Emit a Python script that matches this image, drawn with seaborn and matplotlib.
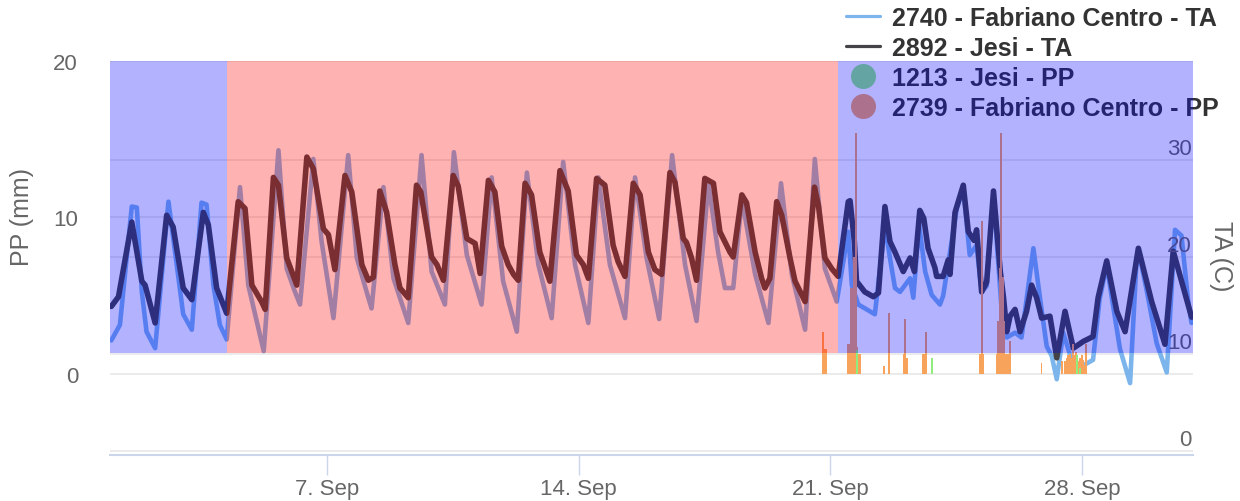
import numpy as np
import pandas as pd
import matplotlib
matplotlib.use("Agg")
import matplotlib.pyplot as plt
import matplotlib.dates as mdates
import matplotlib.transforms as mtrans
from matplotlib.lines import Line2D
from matplotlib.patches import Rectangle
import seaborn as sns

# ---------------- data ----------------
start = pd.Timestamp("2023-09-01 00:00")

# 2740 - Fabriano Centro - TA  (days since 1 Sep 00:00, deg C)
fab_ta_day = [0.00, 0.24, 0.57, 0.71, 0.85, 0.98, 1.22, 1.59, 1.82, 2.00, 2.24, 2.51, 2.65, 2.84,
              3.02, 3.21, 3.58, 3.81, 4.24, 4.65, 4.88, 5.11, 5.25, 5.62, 5.85, 6.18, 6.59, 6.83,
              7.15, 7.24, 7.57, 7.85, 8.26, 8.63, 8.91, 9.28, 9.53, 9.89, 10.30, 10.58, 10.90,
              11.28, 11.56, 11.88, 12.25, 12.57, 12.90, 13.27, 13.55, 13.87, 14.29, 14.57, 14.89,
              15.24, 15.60, 15.96, 16.28, 16.61, 16.88, 17.07, 17.30, 17.54, 17.91, 18.28, 18.63,
              18.93, 19.30, 19.57, 19.85, 20.18, 20.50, 20.60, 20.78, 21.24, 21.52, 21.66, 21.80,
              21.94, 22.22, 22.31, 22.47, 22.64, 22.82, 23.05, 23.14, 23.52, 23.70, 23.88, 24.07,
              24.21, 24.35, 24.54, 24.77, 24.91, 25.14, 25.32, 25.65, 25.84, 26.02, 26.16, 26.30,
              26.48, 26.71, 27.03, 27.31, 27.49, 27.69, 27.87, 28.06, 28.34, 28.52, 28.61, 28.80,
              29.08, 29.36, 29.59, 29.77, 29.95, 30.05]
fab_ta_val = [11.4, 13.0, 25.2, 25.1, 16.4, 12.3, 10.6, 25.7, 19.2, 14.1, 12.5, 25.6, 25.4, 17.1,
              13.0, 11.5, 27.2, 17.1, 10.3, 31.0, 18.8, 16.4, 15.1, 30.1, 21.6, 13.7, 30.5, 19.9,
              15.8, 14.7, 27.2, 17.8, 13.2, 30.5, 18.5, 15.1, 30.8, 20.2, 15.1, 28.2, 17.5,
              12.3, 28.7, 19.2, 13.7, 29.8, 19.2, 13.2, 28.2, 19.2, 13.7, 28.2, 19.9,
              13.6, 30.5, 19.2, 13.4, 27.6, 20.5, 16.8, 16.8, 26.0, 18.2, 13.2, 27.6,
              18.2, 12.5, 30.1, 18.8, 15.4, 22.6, 17.1, 15.1, 14.1, 23.3, 19.9, 16.8,
              16.4, 17.8, 15.8, 23.3, 18.5, 16.1, 15.1, 16.0, 25.0, 27.0, 20.2, 21.2,
              16.4, 17.0, 26.3, 14.4, 11.7, 12.2, 11.7, 20.9, 15.6, 10.8, 9.8, 7.4,
              12.2, 9.4, 8.8, 9.4, 15.6, 19.2, 14.9, 10.5, 7.0, 19.7, 20.0, 16.6,
              11.1, 8.1, 22.8, 22.2, 15.6, 13.2]

# 2892 - Jesi - TA
jesi_ta_day = [0.00, 0.20, 0.57, 0.85, 0.94, 1.22, 1.54, 1.72, 2.00, 2.24, 2.56, 2.70, 2.93, 3.21,
               3.53, 3.72, 3.91, 4.18, 4.28, 4.51, 4.65, 4.88, 5.16, 5.44, 5.62, 5.90, 6.04, 6.22,
               6.50, 6.69, 6.97, 7.15, 7.29, 7.47, 7.66, 7.89, 8.03, 8.26, 8.49, 8.61, 8.91, 9.06,
               9.24, 9.51, 9.65, 9.89, 10.12, 10.26, 10.49, 10.67, 10.86, 11.04, 11.19, 11.32,
               11.51, 11.69, 11.92, 12.20, 12.48, 12.71, 12.94, 13.13, 13.27, 13.50, 13.73, 13.96,
               14.10, 14.29, 14.52, 14.71, 14.94, 15.12, 15.31, 15.54, 15.68, 15.91, 16.00, 16.14,
               16.28, 16.51, 16.75, 16.93, 17.21, 17.30, 17.54, 17.67, 17.91, 18.09, 18.18, 18.32,
               18.51, 18.65, 18.88, 19.02, 19.30, 19.56, 19.67, 19.85, 20.04, 20.22, 20.50, 20.55,
               20.67, 20.73, 20.96, 21.20, 21.34, 21.52, 21.66, 21.80, 22.03, 22.22, 22.34, 22.49,
               22.60, 22.72, 22.91, 22.96, 23.14, 23.28, 23.33, 23.47, 23.70, 23.84, 24.00, 24.07,
               24.21, 24.35, 24.54, 24.73, 24.82, 24.91, 25.00, 25.14, 25.28, 25.46, 25.60, 25.74,
               25.88, 26.11, 26.30, 26.53, 26.76, 27.04, 27.31, 27.45, 27.69, 27.97, 28.20, 28.57,
               28.94, 29.31, 29.54, 30.05]
jesi_ta_val = [14.9, 15.9, 23.6, 17.5, 17.1, 13.2, 24.3, 23.1, 16.8, 15.6, 24.6, 23.3, 16.8, 14.2,
               25.7, 25.0, 17.1, 15.4, 14.6, 28.2, 27.4, 19.9, 17.1, 30.3, 29.1, 22.9, 22.3, 18.7,
               28.4, 26.7, 19.2, 17.6, 17.9, 26.8, 24.6, 19.2, 16.8, 15.8, 27.4, 26.7, 20.0, 19.2,
               17.6, 28.4, 27.3, 21.9, 21.4, 18.3, 27.9, 26.7, 21.1, 19.2, 18.2, 17.6,
               27.6, 26.4, 20.5, 17.5, 28.9, 26.8, 20.2, 19.2, 17.8, 28.1, 27.4, 21.2,
               19.5, 18.0, 27.6, 26.4, 20.5, 18.7, 18.2, 28.7, 27.7, 21.9, 21.5, 19.9,
               17.6, 28.1, 27.6, 22.6, 20.5, 20.0, 26.4, 25.6, 20.5, 17.8, 16.8, 17.8,
               25.7, 24.3, 19.9, 17.5, 15.4, 27.2, 25.3, 19.9, 18.8, 18.0, 25.7, 25.8,
               21.6, 17.5, 16.4, 15.9, 16.3, 25.2, 21.6, 20.5, 18.5, 19.9, 18.5, 24.8,
               24.0, 20.9, 18.9, 18.0, 18.0, 19.7, 18.2, 24.6, 27.4, 22.6, 21.7, 22.8,
               16.4, 17.4, 26.8, 18.5, 15.8, 12.3, 13.9, 14.6, 12.3, 14.4, 17.1, 15.8,
               13.7, 13.9, 9.6, 14.4, 10.6, 11.3, 11.8, 15.8, 19.6, 14.4, 12.3, 20.9,
               15.4, 11.0, 20.6, 13.8]

# 2739 - Fabriano Centro - PP  (hours since 1 Sep 00:00, mm)
fab_pp_hour = [475, 476, 477, 492, 493, 494, 495, 496, 497, 498, 499, 500, 516, 519, 529, 530, 531,
               542, 543, 544, 580, 581, 582, 591, 592, 593, 594, 595, 596, 597, 598, 599, 600,
               621, 635, 637, 638, 639, 640, 641, 642, 643, 644, 645, 646, 647, 648, 649, 650, 651]
fab_pp_val = [2.7, 1.6, 1.6, 1.9, 1.9, 5.5, 5.5, 7.5, 15.4, 1.7, 1.3, 1.3, 0.5, 3.9, 1.3, 3.5, 1.0,
              1.3, 1.3, 2.7, 1.3, 9.8, 1.3, 1.3, 3.4, 6.8, 15.4, 6.2, 3.4, 1.3, 1.3, 1.3, 2.1,
              0.7, 0.8, 0.8, 1.0, 1.2, 1.3, 1.0, 1.9, 1.2, 1.4, 1.0, 0.8, 1.0, 1.2, 0.9, 0.6, 1.9]

# 1213 - Jesi - PP
jesi_pp_hour = [498, 548, 645, 647]
jesi_pp_val = [1.5, 1.0, 1.2, 0.4]

# background bands (hours since start) and their colours
band_edges_hour = [-2, 77.2, 485.2, 730]
band_colors = ["#0000ff", "#ff0000", "#0000ff"]
band_ta_low, band_ta_high = 10.1, 41

legend_labels = ["2740 - Fabriano Centro - TA", "2892 - Jesi - TA",
                 "1213 - Jesi - PP", "2739 - Fabriano Centro - PP"]
xtick_days = [6, 13, 20, 27]
xtick_labels = ["7. Sep", "14. Sep", "21. Sep", "28. Sep"]
pp_ticks = [0, 10, 20]
ta_ticks = [0, 10, 20, 30]

C_FAB_TA = "#7cb5ec"
C_JESI_TA = "#434348"
C_JESI_PP = "#90ed7d"
C_FAB_PP = "#f7a35c"
GRID = "#e6e6e6"
TXT = "#666666"

# ---------------- figure ----------------
sns.set_theme(style="white")
plt.rcParams["font.family"] = ["Liberation Sans", "DejaVu Sans"]

W, H = 1240, 502
fig = plt.figure(figsize=(W / 100, H / 100), dpi=100)
ax_ta = fig.add_axes([110 / W, 1 - 456 / H, (1193 - 110) / W, (456 - 62) / H])
ax_pp = ax_ta.twinx()

def to_dt_days(days):
    return start + pd.to_timedelta(np.asarray(days, dtype=float), unit="D")

def to_dt_hours(hours):
    return start + pd.to_timedelta(np.asarray(hours, dtype=float), unit="h")

fab_df = pd.DataFrame({"time": to_dt_days(fab_ta_day), "TA": fab_ta_val})
jesi_df = pd.DataFrame({"time": to_dt_days(jesi_ta_day), "TA": jesi_ta_val})

ax_ta.set_ylim(-0.41, 40.2)
ax_pp.set_ylim(-5.18, 20)
x0 = start - pd.Timedelta(days=0.036)
x1 = start + pd.Timedelta(days=30.09)
ax_ta.set_xlim(x0, x1)

# gridlines (drawn in the base axes, under everything)
blend_ta = mtrans.blended_transform_factory(ax_ta.transAxes, ax_ta.transData)
blend_pp = mtrans.blended_transform_factory(ax_ta.transAxes, ax_pp.transData)
for v in ta_ticks:
    ax_ta.plot([0, 1], [v, v], transform=blend_ta, color=GRID, lw=1.1, zorder=0.5)
for v in pp_ticks:
    ax_ta.plot([0, 1], [v, v], transform=blend_pp, color=GRID, lw=1.1, zorder=0.5)

# temperature lines
sns.lineplot(data=fab_df, x="time", y="TA", ax=ax_ta, color=C_FAB_TA, linewidth=3.3,
             legend=False, zorder=2, solid_joinstyle="round", solid_capstyle="round")
sns.lineplot(data=jesi_df, x="time", y="TA", ax=ax_ta, color=C_JESI_TA, linewidth=4.0,
             legend=False, zorder=3, solid_joinstyle="round", solid_capstyle="round")

# precipitation columns
ax_pp.bar(to_dt_hours(fab_pp_hour), fab_pp_val, width=1.3 / 24, color=C_FAB_PP,
          linewidth=0, zorder=2)
ax_pp.bar(to_dt_hours(jesi_pp_hour), jesi_pp_val, width=1.3 / 24, color=C_JESI_PP,
          linewidth=0, zorder=2.1)
ax_pp.set_ylim(-5.18, 20)
ax_ta.set_xlim(x0, x1)

# right-hand TA labels (inside the plot, under the bands)
for v in ta_ticks:
    ax_pp.annotate(str(v), xy=(1, v), xycoords=blend_ta, xytext=(-1, 1),
                   textcoords="offset pixels", ha="right", va="bottom",
                   fontsize=16, color=TXT, zorder=1)

# legend (under the bands as well)
handles = [Line2D([], [], color=C_FAB_TA, lw=2.3),
           Line2D([], [], color=C_JESI_TA, lw=2.3),
           Line2D([], [], color=C_JESI_PP, marker="o", linestyle="", markersize=17),
           Line2D([], [], color=C_FAB_PP, marker="o", linestyle="", markersize=17)]
leg = ax_pp.legend(handles, legend_labels, loc="upper left",
                   bbox_to_anchor=(846 / W, 1 - 7 / H), bbox_transform=fig.transFigure,
                   frameon=False, prop={"weight": "bold", "size": 18},
                   labelcolor="#333333", handlelength=1.36, handletextpad=0.46,
                   borderpad=0, borderaxespad=0, labelspacing=0.24)
leg.set_zorder(1)

# translucent bands over everything in the plot
for i, c in enumerate(band_colors):
    xa = mdates.date2num(to_dt_hours([band_edges_hour[i]])[0])
    xb = mdates.date2num(to_dt_hours([band_edges_hour[i + 1]])[0])
    ax_pp.add_patch(Rectangle((xa, band_ta_low), xb - xa, band_ta_high - band_ta_low,
                              transform=ax_ta.transData, facecolor=c, alpha=0.3,
                              edgecolor="none", zorder=10))

# axes styling
for a in (ax_ta, ax_pp):
    for s in a.spines.values():
        s.set_visible(False)
ax_ta.spines["bottom"].set_visible(True)
ax_ta.spines["bottom"].set_color("#ccd6eb")
ax_ta.spines["bottom"].set_linewidth(1.5)

ax_ta.set_yticks([])
ax_ta.set_ylabel("")
ax_ta.set_xlabel("")
ax_ta.set_xticks([mdates.date2num(start + pd.Timedelta(days=d)) for d in xtick_days])
ax_ta.set_xticklabels(xtick_labels)
ax_ta.tick_params(axis="x", direction="out", length=14.4, width=1.0, color="#ccd6eb",
                  labelsize=16, labelcolor=TXT, pad=2, bottom=True)

ax_pp.yaxis.set_ticks_position("left")
ax_pp.set_yticks(pp_ticks)
ax_pp.set_yticklabels([str(v) for v in pp_ticks])
ax_pp.tick_params(axis="y", length=0, labelsize=16, labelcolor=TXT, pad=23,
                  left=False, right=False, labelleft=True, labelright=False)
ax_pp.set_ylabel("")

fig.text(22.5 / W, 1 - 217 / H, "PP (mm)", rotation=90, ha="center", va="center",
         fontsize=18, color=TXT)
fig.text(1221 / W, 1 - 256 / H, "TA (C)", rotation=270, ha="center", va="center",
         fontsize=18, color=TXT)

fig.savefig("out.png", dpi=100)
